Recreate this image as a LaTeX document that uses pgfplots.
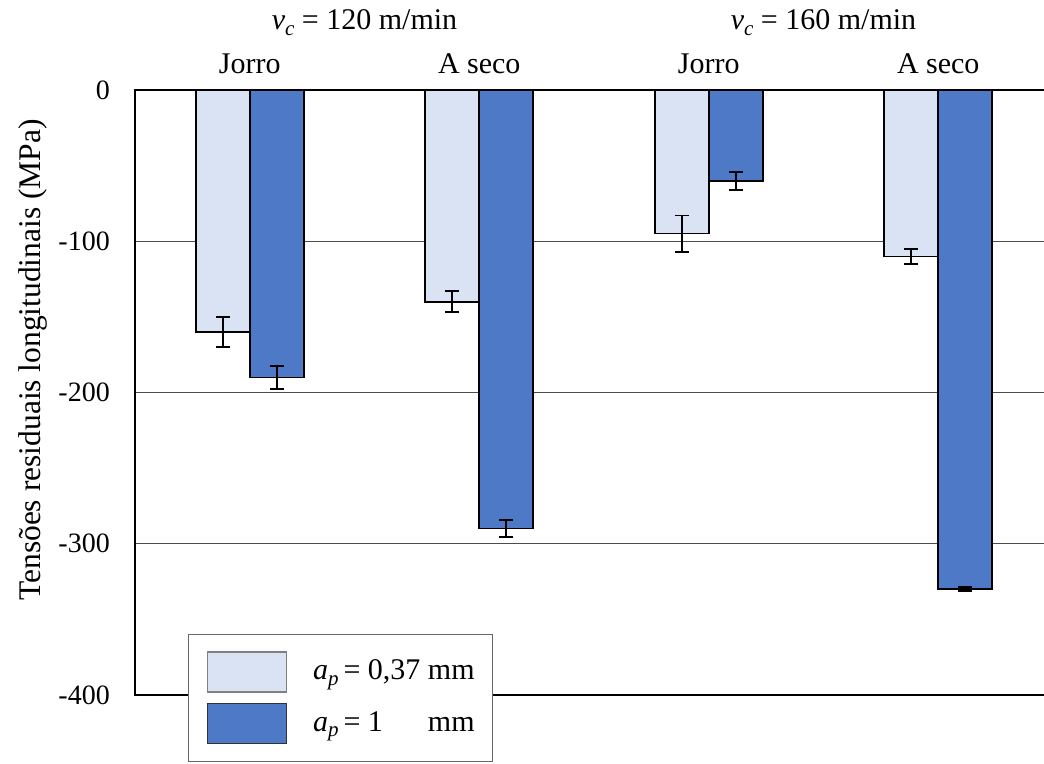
\documentclass[border=0pt]{standalone}
\usepackage{pgfplots}
\pgfplotsset{compat=1.18}
\usepackage{fontspec}
\setmainfont{Liberation Serif}
\definecolor{lightbar}{HTML}{DAE3F3}
\definecolor{darkbar}{HTML}{4E79C7}
\newcommand{\bigf}{\fontsize{30}{36}\selectfont}
\newcommand{\sub}[2]{\textit{#1}\raisebox{-0.4ex}{\fontsize{21}{21}\selectfont\textit{#2}}}
\begin{document}
\bigf
\begin{tikzpicture}[x=1pt,y=1pt]
\useasboundingbox (0,0) rectangle (1044,763);
\clip (0,0) rectangle (1044,763);
\begin{axis}[
  at={(135pt,68pt)}, anchor=south west,
  scale only axis, width=918pt, height=605pt,
  xmin=-0.5, xmax=3.5, ymin=-400, ymax=0,
  clip=false,
  ybar=0pt, bar width=54pt,
  axis line style={line width=2.6pt, black},
  ytick={-400,-300,-200,-100,0},
  yticklabels={-400,-300,-200,-100,0},
  xtick={0,1,2,3},
  xticklabels={Jorro,A seco,Jorro,A seco},
  xticklabel pos=upper,
  xticklabel style={anchor=base, yshift=16pt, font=\bigf},
  yticklabel style={xshift=-15pt, font=\fontsize{28}{34}\selectfont},
  major tick length=0pt,
  ymajorgrids,
  grid style={line width=1.2pt, black!70},
  legend style={at={(0.0577,0.101)}, anchor=north west,
    draw=black!60, line width=1.2pt, fill=white,
    inner xsep=18pt, inner ysep=17pt,
    nodes={inner sep=0pt, font=\bigf},
    row sep=10pt, column sep=26pt},
  legend cell align=left,
  error bars/y dir=both, error bars/y explicit,
  error bars/error bar style={line width=1.8pt, black},
  error bars/error mark options={rotate=90, mark size=7pt, line width=1.8pt, black},
]
\addplot[fill=lightbar, draw=black, line width=1.6pt,
  legend image code/.code={\draw[fill=lightbar, draw=black!50, line width=1.5pt] (0pt,-20pt) rectangle (79pt,20pt);}]
  coordinates {(0,-160) +- (0,10) (1,-140) +- (0,7) (2,-95) +- (0,12) (3,-110) +- (0,5)};
\addlegendentry{\sub{a}{p}\,= 0,37 mm}
\addplot[fill=darkbar, draw=black, line width=1.6pt,
  legend image code/.code={\draw[fill=darkbar, draw=black!80, line width=1.5pt] (0pt,-20pt) rectangle (79pt,20pt);}]
  coordinates {(0,-190) +- (0,7.5) (1,-290) +- (0,5.5) (2,-60) +- (0,6) (3,-330) +- (0,1.5)};
\addlegendentry{\sub{a}{p}\,= 1\hphantom{,37} mm}
\node[anchor=base, font=\bigf] at (axis cs:0.5,0) [yshift=60pt] {\sub{v}{c} = 120 m/min};
\node[anchor=base, font=\bigf] at (axis cs:2.5,0) [yshift=60pt] {\sub{v}{c} = 160 m/min};
\end{axis}
\node[rotate=90, font=\fontsize{31.5}{36}\selectfont] at (33,403) {Tensões residuais longitudinais (MPa)};
\end{tikzpicture}
\end{document}
